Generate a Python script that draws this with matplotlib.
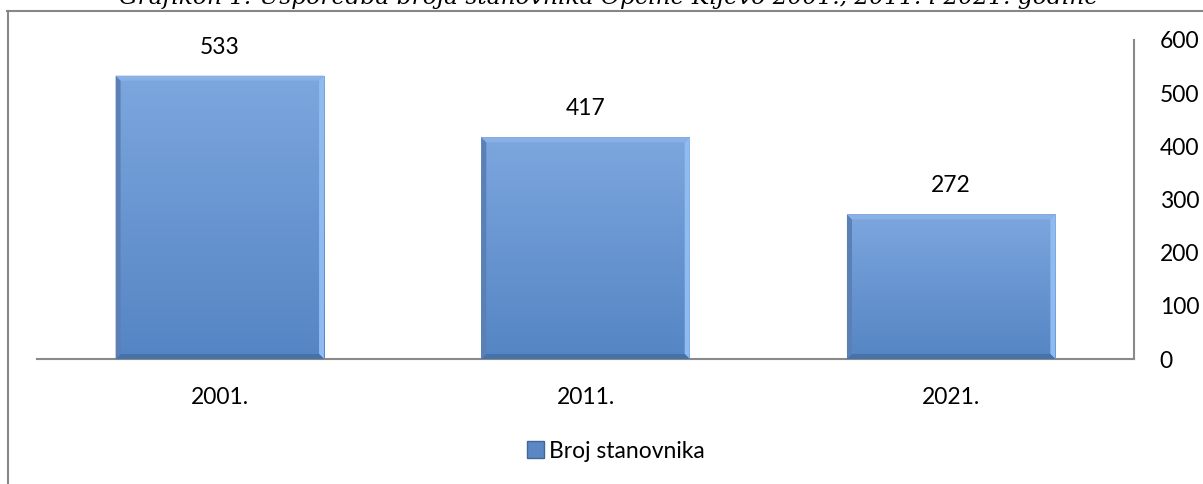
import matplotlib
matplotlib.use("Agg")
import matplotlib.pyplot as plt
import numpy as np
from matplotlib.lines import Line2D
from matplotlib.patches import Polygon, Patch
from matplotlib.colors import LinearSegmentedColormap

# podaci
godine = ["2001.", "2011.", "2021."]
stanovnici = [533, 417, 272]
y_ticks = [0, 100, 200, 300, 400, 500, 600]
naslov = "Grafikon 1: Usporedba broja stanovnika Općine Kijevo 2001., 2011. i 2021. godine"
legenda = "Broj stanovnika"

W, H = 1203, 484
fig = plt.figure(figsize=(W / 100, H / 100), dpi=100)
ax = fig.add_axes([37 / W, 1 - 359 / H, (1134 - 37) / W, (359 - 40) / H])

x = np.arange(len(godine))
bars = ax.bar(x, stanovnici, width=0.57, color="#6392D0", edgecolor="none", zorder=2)

ax.set_xlim(-0.5, len(godine) - 0.5)
ax.set_ylim(0, 600)

# gradijent i rubovi (bevel) za stupce
grad = LinearSegmentedColormap.from_list("g", ["#5585C4", "#7CA6DE"])
px_x = 3 / (1134 - 37)       # jedan piksel u jedinicama x
px_y = 600 / (359 - 40)      # jedan piksel u jedinicama y
b = 5
for rect in bars:
    x0, w, h = rect.get_x(), rect.get_width(), rect.get_height()
    x1 = x0 + w
    img = ax.imshow(np.linspace(0, 1, 100).reshape(-1, 1), cmap=grad, origin="lower",
                    extent=(x0, x1, 0, h), aspect="auto", zorder=3)
    img.set_clip_path(rect)
    bx, by = b * px_x, b * px_y
    ax.add_patch(Polygon([(x0, 0), (x0, h), (x0 + bx, h - by), (x0 + bx, by)],
                         closed=True, fc="#5A80B6", ec="none", zorder=4))
    ax.add_patch(Polygon([(x1, 0), (x1, h), (x1 - bx, h - by), (x1 - bx, by)],
                         closed=True, fc="#8FBBF1", ec="none", zorder=4))
    ax.add_patch(Polygon([(x0, h), (x1, h), (x1 - bx, h - by), (x0 + bx, h - by)],
                         closed=True, fc="#8AB1E6", ec="none", zorder=4))
    ax.add_patch(Polygon([(x0, 0), (x1, 0), (x1 - bx, by), (x0 + bx, by)],
                         closed=True, fc="#4672AA", ec="none", zorder=4))
    ax.annotate(str(int(h)), (x0 + w / 2, h), xytext=(0, 15.8), textcoords="offset points",
                ha="center", va="baseline", fontsize=16.5, family="Lato", color="black")

ax.set_xticks(x)
ax.set_xticklabels(godine, fontsize=16.5, family="Lato")
ax.yaxis.tick_right()
ax.set_yticks(y_ticks)
ax.set_yticklabels([str(v) for v in y_ticks], fontsize=16.5, family="Lato")
ax.tick_params(axis="x", length=0, pad=20)
ax.tick_params(axis="y", length=0, pad=18.5)

for s in ["left", "top"]:
    ax.spines[s].set_visible(False)
for s in ["right", "bottom"]:
    ax.spines[s].set_color("#8A8A8A")
    ax.spines[s].set_linewidth(1.5)

# okvir grafikona
fig.add_artist(Line2D([7.5 / W, 7.5 / W], [0, 1 - 11 / H], transform=fig.transFigure,
                      color="#878787", lw=1.5))
fig.add_artist(Line2D([7 / W, 1], [1 - 11 / H, 1 - 11 / H], transform=fig.transFigure,
                      color="#878787", lw=1.5))

# naslov je u izvorniku odrezan na vrhu
fig.text(609 / W, 1 - 4 / H, naslov, ha="center", va="baseline", fontsize=16.8,
         family="DejaVu Serif", style="italic")

fig.legend(handles=[Patch(facecolor="#5B88C4", edgecolor="#3F6798", label=legenda)],
           loc="center", bbox_to_anchor=(616 / W, 1 - 451 / H), frameon=False,
           prop={"family": "Lato", "size": 16.5}, handlelength=0.75, handleheight=0.75,
           handletextpad=0.2)

fig.savefig("out.png", dpi=100)
